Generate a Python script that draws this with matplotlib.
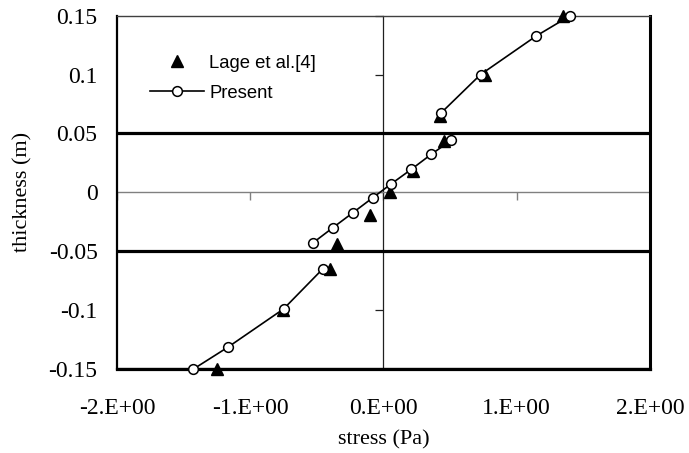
import numpy as np
import matplotlib
matplotlib.use("Agg")
import matplotlib.pyplot as plt

# Lage et al.[4] reference points
lage_stress = [-1.25, -0.755, -0.40, -0.35, -0.10, 0.05, 0.225, 0.455, 0.425, 0.765, 1.35]
lage_thick = [-0.15, -0.10, -0.065, -0.044, -0.019, 0.0, 0.018, 0.044, 0.065, 0.10, 0.15]

# present solution, one list per layer (lines are not joined across layers)
present_stress = [
    [-1.426, -1.168, -0.750, -0.456],
    [-0.531, -0.380, -0.230, -0.080, 0.053, 0.208, 0.358, 0.508],
    [0.428, 0.728, 1.146, 1.401],
]
present_thick = [
    [-0.15, -0.1315, -0.099, -0.065],
    [-0.043, -0.030, -0.0173, -0.0045, 0.0068, 0.0195, 0.0323, 0.0442],
    [0.067, 0.100, 0.1328, 0.15],
]
layer_bounds = [-0.15, -0.05, 0.05]

x_ticks = [-2, -1, 0, 1, 2]
x_labels = ["-2.E+00", "-1.E+00", "0.E+00", "1.E+00", "2.E+00"]
y_ticks = [-0.15, -0.1, -0.05, 0, 0.05, 0.1, 0.15]
y_labels = ["-0.15", "-0.1", "-0.05", "0", "0.05", "0.1", "0.15"]

serif = "Liberation Serif"
sans = "Liberation Sans"

fig = plt.figure(figsize=(6.89, 4.53), dpi=100)
pos = [0.1698, 0.1854, 0.9434 - 0.1698, 0.9653 - 0.1854]
ax = fig.add_axes(pos)

ax.set_xlim(-2, 2)
ax.set_ylim(-0.15, 0.15)

# layer boundaries
for yb in layer_bounds:
    ax.axhline(yb, color="black", lw=2.3, zorder=2)

# series: join layers with nan breaks
px, py = [], []
for xs, ys in zip(present_stress, present_thick):
    px += xs + [np.nan]
    py += ys + [np.nan]

ax.plot(lage_stress, lage_thick, linestyle="none", marker="^", color="black",
        markersize=9, label="Lage et al.[4]", zorder=4, clip_on=False)
ax.plot(px, py, color="black", lw=1.2, marker="o", markersize=7,
        markerfacecolor="white", markeredgecolor="black", markeredgewidth=1.1,
        label="Present", zorder=5, clip_on=False)

ax.set_xticks(x_ticks)
ax.set_xticklabels(x_labels, fontsize=17, family=serif)
ax.set_yticks(y_ticks)
ax.set_yticklabels(y_labels, fontsize=17, family=serif)
ax.tick_params(axis="both", length=0)
ax.tick_params(axis="y", pad=14)
ax.tick_params(axis="x", pad=21)

ax.spines["left"].set_linewidth(1.6)
ax.spines["right"].set_linewidth(2.2)
ax.spines["bottom"].set_linewidth(2.3)
ax.spines["top"].set_linewidth(1.0)
ax.spines["top"].set_color("#404040")

ax.set_xlabel("stress (Pa)", fontsize=16, family=serif)
ax.set_ylabel("thickness (m)", fontsize=16, family=serif)
ax.xaxis.set_label_coords(0.5, -0.172)
ax.yaxis.set_label_coords(-0.158, 0.5)

leg = ax.legend(loc="center left", bbox_to_anchor=(0.062, 0.823), frameon=False,
                prop={"family": sans, "size": 13.3}, handlelength=2.9,
                handletextpad=0.3, labelspacing=0.7, borderpad=0, borderaxespad=0)

# axes crossing at zero, drawn on an overlay
ax2 = fig.add_axes(pos, sharex=ax, sharey=ax)
ax2.patch.set_visible(False)
ax2.spines["left"].set_position(("data", 0))
ax2.spines["bottom"].set_position(("data", 0))
ax2.spines["top"].set_visible(False)
ax2.spines["right"].set_visible(False)
ax2.spines["left"].set_linewidth(0.9)
ax2.spines["left"].set_color("#202020")
ax2.spines["bottom"].set_linewidth(1.0)
ax2.spines["bottom"].set_color("#808080")
ax2.tick_params(axis="y", direction="out", length=6, width=0.9, color="#202020",
                labelleft=False)
ax2.tick_params(axis="x", direction="out", length=6, width=1.0, color="#808080",
                labelbottom=False)
ax2.set_zorder(ax.get_zorder() - 1)
ax.patch.set_visible(False)

fig.savefig("out.png", dpi=100)
